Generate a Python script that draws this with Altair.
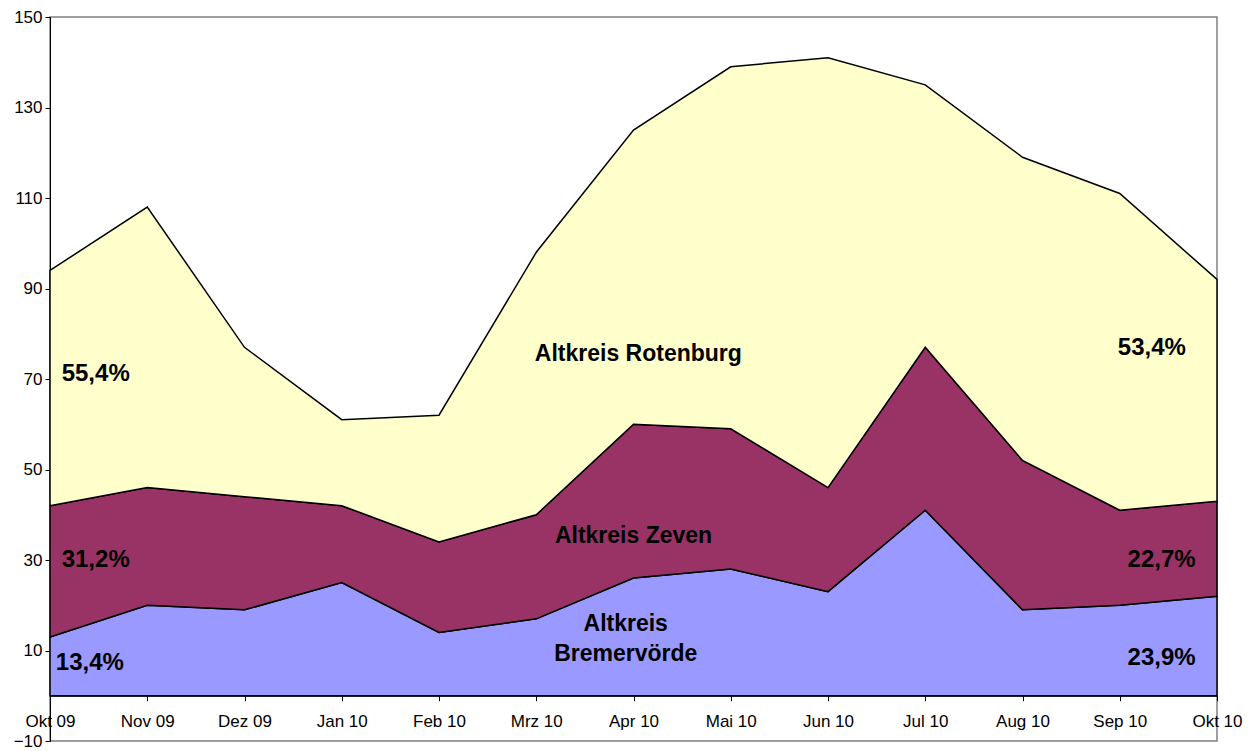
import altair as alt
import pandas as pd

months = ["Okt 09", "Nov 09", "Dez 09", "Jan 10", "Feb 10", "Mrz 10", "Apr 10",
          "Mai 10", "Jun 10", "Jul 10", "Aug 10", "Sep 10", "Okt 10"]
series = ["Altkreis Bremervörde", "Altkreis Zeven", "Altkreis Rotenburg"]
bremervoerde = [13, 20, 19, 25, 14, 17, 26, 28, 23, 41, 19, 20, 22]
zeven = [29, 26, 25, 17, 20, 23, 34, 31, 23, 36, 33, 21, 21]
rotenburg = [52, 62, 33, 19, 28, 58, 65, 80, 95, 58, 67, 70, 49]
colors = ["#9999FF", "#993366", "#FFFFCC"]
y_ticks = [-10, 10, 30, 50, 70, 90, 110, 130, 150]

# annotation texts with data-space anchors (month index, value)
ann_text = ["55,4%", "31,2%", "13,4%", "Altkreis Rotenburg", "Altkreis Zeven",
            "Altkreis", "Bremervörde", "53,4%", "22,7%", "23,9%"]
ann_x = [0.12, 0.12, 0.06, 6.05, 6.0, 5.92, 5.92, 11.68, 11.78, 11.78]
ann_y = [71, 30, 7.3, 75.5, 35.3, 15.9, 9.2, 76.8, 30, 8.4]
ann_align = ["left", "left", "left", "center", "center", "center", "center",
             "right", "right", "right"]
ann_size = [24, 24, 24, 23, 23, 23, 23, 24, 24, 24]

rows = []
for order, (name, vals) in enumerate(zip(series, [bremervoerde, zeven, rotenburg])):
    for i, v in enumerate(vals):
        rows.append({"idx": i, "month": months[i], "series": name, "value": v, "order": order})
df = pd.DataFrame(rows)

ann = pd.DataFrame({"text": ann_text, "x": ann_x, "y": ann_y,
                    "align": ann_align, "size": ann_size})

label_expr = "[" + ",".join("'" + m + "'" for m in months) + "][datum.value]"

x_scale = alt.Scale(domain=[0, 12], nice=False, zero=False)
y_scale = alt.Scale(domain=[-10, 150], nice=False, zero=False)

areas = alt.Chart(df).mark_area(stroke="black", strokeWidth=1.5, opacity=1).encode(
    x=alt.X("idx:Q", scale=x_scale,
            axis=alt.Axis(values=list(range(13)), labelExpr=label_expr, title=None,
                          offset=-45.25, domainColor="black", tickColor="black",
                          tickSize=5, labelFontSize=17, labelColor="black",
                          labelPadding=13, grid=False, labelFont="Liberation Sans",
                          labelOverlap=False, labelFlush=False)),
    y=alt.Y("value:Q", stack="zero", scale=y_scale,
            axis=alt.Axis(values=y_ticks, title=None, domainColor="black",
                          tickColor="black", tickSize=5, labelFontSize=17,
                          labelColor="black", labelPadding=3, grid=False,
                          labelFont="Liberation Sans")),
    color=alt.Color("series:N", scale=alt.Scale(domain=series, range=colors), legend=None),
    order=alt.Order("order:Q"),
)

def text_layer(align):
    sub = ann[ann["align"] == align]
    layers = []
    for size in sorted(sub["size"].unique()):
        s = sub[sub["size"] == size]
        layers.append(alt.Chart(s).mark_text(
            align=align, baseline="middle", fontWeight="bold", fontSize=int(size),
            font="Liberation Sans", color="black"
        ).encode(
            x=alt.X("x:Q", scale=x_scale),
            y=alt.Y("y:Q", scale=y_scale),
            text="text:N",
        ))
    return layers

texts = text_layer("left") + text_layer("center") + text_layer("right")

chart = alt.layer(areas, *texts).properties(
    width=1167, height=724,
    padding={"left": 42, "top": 9, "right": 34, "bottom": 11},
    autosize=alt.AutoSizeParams(type="none"),
    background="white",
).configure_view(stroke="#808080", strokeWidth=1.5)

chart.save("out.html", embed_options={"renderer": "svg", "actions": False})
